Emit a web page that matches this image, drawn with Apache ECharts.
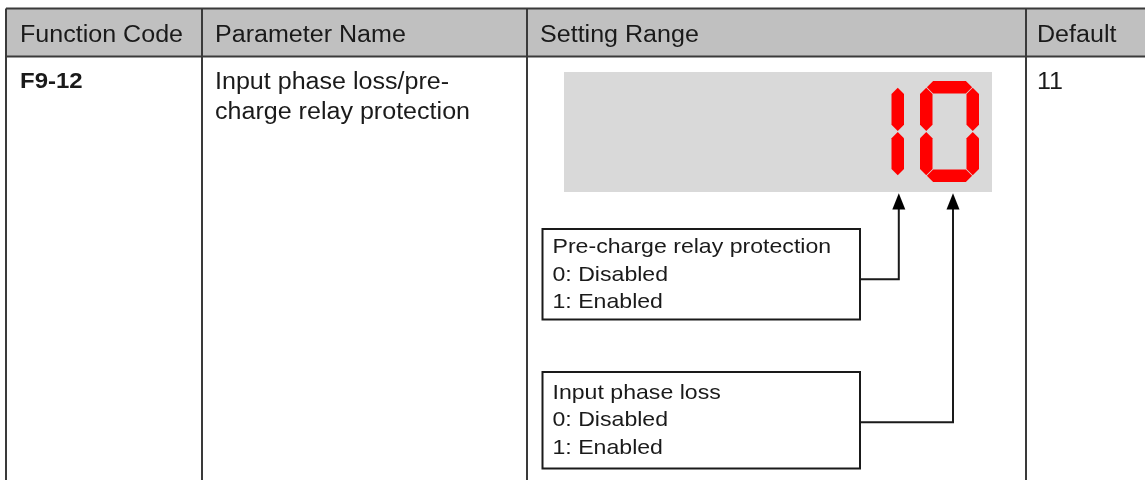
<!DOCTYPE html>
<html>
<head>
<meta charset="utf-8">
<script src="https://cdn.jsdelivr.net/npm/echarts@6/dist/echarts.min.js"></script>
<style>
html,body{margin:0;padding:0;background:#fff;}
#main{width:1145px;height:480px;}
</style>
</head>
<body>
<div id="main"></div>
<script>
// ---- data ----
var headers = ['Function Code', 'Parameter Name', 'Setting Range', 'Default'];
var functionCode = 'F9-12';
var parameterNameLines = ['Input phase loss/pre-', 'charge relay protection'];
var defaultValue = '11';
var displayDigits = ['1', '0'];
var box1Lines = ['Pre-charge relay protection', '0: Disabled', '1: Enabled'];
var box2Lines = ['Input phase loss', '0: Disabled', '1: Enabled'];

// ---- layout ----
var FONT = '"Liberation Sans", Arial, Helvetica, sans-serif';
var colX = [6, 202, 527, 1026, 1160];
var tableTop = 8.5, headerBottom = 56.5, tableBottom = 490;
var lineColor = '#3a3a3a';
var headerFill = '#c0c0c0';
var textColor = '#1a1a1a';
var stretch = 1.09;

var SEG = {
  '0': 'abcdef', '1': 'bc', '2': 'abged', '3': 'abgcd', '4': 'fgbc',
  '5': 'afgcd', '6': 'afgedc', '7': 'abc', '8': 'abcdefg', '9': 'abcdfg'
};

var elements = [];

function txt(x, y, s, size, opts) {
  opts = opts || {};
  elements.push({
    type: 'text', x: x, y: y, scaleX: opts.scaleX || stretch, z: 10,
    style: {
      text: s, font: (opts.bold ? 'bold ' : '') + size + 'px ' + FONT,
      fill: textColor, textAlign: 'left', textVerticalAlign: 'middle'
    }
  });
}
function line(x1, y1, x2, y2, color, w) {
  elements.push({
    type: 'line', z: 5,
    shape: {x1: x1, y1: y1, x2: x2, y2: y2},
    style: {stroke: color, lineWidth: w}
  });
}
function rect(x, y, w, h, fill, stroke, lw, z) {
  elements.push({
    type: 'rect', z: z || 1,
    shape: {x: x, y: y, width: w, height: h},
    style: {fill: fill, stroke: stroke || null, lineWidth: lw || 0}
  });
}

// header background
rect(colX[0], tableTop, 1145 - colX[0], headerBottom - tableTop, headerFill);
// table grid
line(colX[0], tableTop, 1145, tableTop, lineColor, 2);
line(colX[0], headerBottom, 1145, headerBottom, lineColor, 2);
for (var i = 0; i < 4; i++) line(colX[i], tableTop, colX[i], tableBottom, lineColor, 2);

// header texts
var headerTextX = [20, 215, 540, 1037];
headers.forEach(function (h, i) { txt(headerTextX[i], 36, h, 23); });

// row texts
txt(20, 82, functionCode, 22, {bold: true});
parameterNameLines.forEach(function (l, i) { txt(215, 82.5 + i * 30, l, 23); });
txt(1037, 82.5, defaultValue, 23);

// display panel
rect(564, 72, 428, 120, '#d9d9d9');

// seven segment digits
var digitW = 59, digitH = 101, th = 12.5, pitch = 75, rightEdge = 979, digitTop = 81;
function hSeg(x1, x2, cy) {
  var h = th / 2;
  return [[x1, cy], [x1 + h, cy - h], [x2 - h, cy - h], [x2, cy], [x2 - h, cy + h], [x1 + h, cy + h]];
}
function vSeg(cx, y1, y2) {
  var h = th / 2;
  return [[cx, y1], [cx + h, y1 + h], [cx + h, y2 - h], [cx, y2], [cx - h, y2 - h], [cx - h, y1 + h]];
}
displayDigits.forEach(function (d, i) {
  var ox = rightEdge - digitW - (displayDigits.length - 1 - i) * pitch;
  var oy = digitTop;
  var lx = ox + th / 2, rx = ox + digitW - th / 2;
  var ty = oy + th / 2, by = oy + digitH - th / 2, my = oy + digitH / 2;
  var g = 0.6;
  var segs = {
    a: hSeg(lx + g, rx - g, ty),
    d: hSeg(lx + g, rx - g, by),
    g: hSeg(lx + g, rx - g, my),
    f: vSeg(lx, ty + g, my - g),
    e: vSeg(lx, my + g, by - g),
    b: vSeg(rx, ty + g, my - g),
    c: vSeg(rx, my + g, by - g)
  };
  SEG[d].split('').forEach(function (s) {
    elements.push({type: 'polygon', z: 3, shape: {points: segs[s]}, style: {fill: '#ff0000'}});
  });
});

// option boxes
var boxX = 542.5, boxW = 317.5;
var boxes = [
  {lines: box1Lines, top: 229, h: 90.5, textY: 247.5, connY: 279.3, arrowX: 898.8},
  {lines: box2Lines, top: 372, h: 96.5, textY: 393.2, connY: 422.3, arrowX: 953}
];
var arrowTip = 193.3, arrowBase = 209.5, arrowHalf = 6.5;
boxes.forEach(function (b) {
  rect(boxX, b.top, boxW, b.h, '#fff', '#1a1a1a', 2, 4);
  b.lines.forEach(function (l, i) { txt(552.5, b.textY + i * 27.3, l, 21, {scaleX: 1.1}); });
  elements.push({
    type: 'polyline', z: 5,
    shape: {points: [[boxX + boxW, b.connY], [b.arrowX, b.connY], [b.arrowX, arrowBase - 1]]},
    style: {stroke: '#1a1a1a', lineWidth: 2, fill: null}
  });
  elements.push({
    type: 'polygon', z: 5,
    shape: {points: [[b.arrowX, arrowTip], [b.arrowX + arrowHalf, arrowBase], [b.arrowX - arrowHalf, arrowBase]]},
    style: {fill: '#000'}
  });
});

var chart = echarts.init(document.getElementById('main'), null, {renderer: 'canvas'});
chart.setOption({
  backgroundColor: '#ffffff',
  animation: false,
  graphic: {elements: elements}
});
</script>
</body>
</html>
